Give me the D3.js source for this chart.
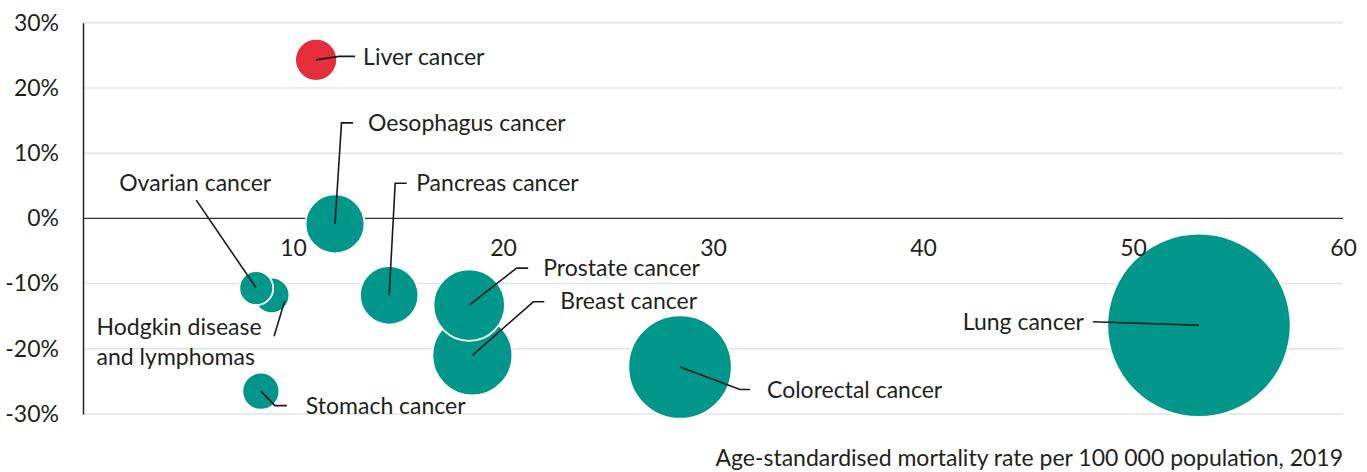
<!DOCTYPE html>
<html>
<head>
<meta charset="utf-8">
<script src="https://cdn.jsdelivr.net/npm/d3@7"></script>
<style>
  html, body { margin: 0; padding: 0; background: #fff; }
  svg { display: block; }
  text { font-family: "Lato", "Open Sans", sans-serif; fill: #231f20; }
</style>
</head>
<body>
<svg id="chart" width="1367" height="472"></svg>
<script>
// Cancer sites: mortality rate (per 100 000, 2019), change in rate (%), bubble size
const cancers   = ["Liver cancer", "Oesophagus cancer", "Hodgkin disease and lymphomas", "Ovarian cancer",
                   "Stomach cancer", "Pancreas cancer", "Breast cancer", "Prostate cancer",
                   "Colorectal cancer", "Lung cancer"];
const mortality = [11.1, 12.0, 8.98, 8.25, 8.47, 14.58, 18.54, 18.39, 28.43, 53.14];
const change    = [24.3, -0.85, -11.8, -10.7, -26.5, -11.8, -21.0, -13.3, -22.8, -16.4];
const deaths    = [13500, 26600, 9700, 8800, 10500, 26100, 48900, 39200, 81700, 257000];
const highlight = ["Liver cancer"];

const xTicks = [10, 20, 30, 40, 50, 60];
const yTicks = [-30, -20, -10, 0, 10, 20, 30];
const xTitle = "Age-standardised mortality rate per 100 000 population, 2019";

const svg = d3.select("#chart");
const plotL = 83, plotR = 1343, plotT = 22.7, plotB = 414;
const fontSize = "23px";

const x = d3.scaleLinear().domain([0, 60]).range([plotL, plotR]);
const y = d3.scaleLinear().domain([-30, 30]).range([plotB, plotT]);
const r = d3.scaleSqrt().domain([0, d3.max(deaths)]).range([0, 91.7]);

const teal = "#00978a", red = "#e52d3b";

// Horizontal gridlines
svg.append("g")
  .selectAll("line")
  .data(yTicks.filter(d => d !== 0))
  .join("line")
  .attr("x1", plotL).attr("x2", plotR)
  .attr("y1", d => y(d)).attr("y2", d => y(d))
  .attr("stroke", "#e3e3e3").attr("stroke-width", 1.5);

// Zero line
svg.append("line")
  .attr("x1", plotL).attr("x2", plotR)
  .attr("y1", y(0)).attr("y2", y(0))
  .attr("stroke", "#333").attr("stroke-width", 1.3);

// Y axis
const yAxis = d3.axisLeft(y).tickValues(yTicks).tickSize(0).tickPadding(24)
  .tickFormat(d => d + "%");
const yg = svg.append("g").attr("transform", `translate(${plotL},0)`).call(yAxis);
yg.select(".domain").attr("stroke", "#222").attr("stroke-width", 1.5);
yg.selectAll("text").style("font-size", fontSize).attr("fill", "#231f20")
  .attr("font-family", null);

// Bubbles
const rows = cancers.map((name, i) => ({
  name, mx: mortality[i], ch: change[i], size: deaths[i]
}));

svg.append("g")
  .selectAll("circle")
  .data(rows)
  .join("circle")
  .attr("cx", d => x(d.mx))
  .attr("cy", d => y(d.ch))
  .attr("r", d => r(d.size))
  .attr("fill", d => highlight.includes(d.name) ? red : teal)
  .attr("stroke", "#fff").attr("stroke-width", 1.8);

// X axis tick labels sit just below the zero line
const xAxis = d3.axisBottom(x).tickValues(xTicks).tickSize(0).tickPadding(21);
const xg = svg.append("g").attr("transform", `translate(0,${y(0)})`).call(xAxis);
xg.select(".domain").remove();
xg.selectAll("text").style("font-size", fontSize).attr("fill", "#231f20")
  .attr("font-family", null);

// Leader lines and labels (pixel offsets from each bubble's centre)
const callouts = {
  "Liver cancer":       { path: [[0, 0], [23, -3.5], [39, -3.5]], text: [47, -4], anchor: "start" },
  "Oesophagus cancer":  { path: [[0, 0], [6.5, -101], [18, -101]], text: [33, -102], anchor: "start" },
  "Pancreas cancer":    { path: [[0, 0], [6, -112], [17.5, -112]], text: [27, -113], anchor: "start" },
  "Ovarian cancer":     { path: [[0, 0], [-60, -88]], text: [-61, -106], anchor: "middle" },
  "Hodgkin disease and lymphomas":
                        { path: [[13, 6], [2.5, 41]], text: [-175, 30.5], anchor: "start",
                          lines: ["Hodgkin disease", "and lymphomas"] },
  "Stomach cancer":     { path: [[0, 0], [14, 14.5], [26, 14.5]], text: [45, 14], anchor: "start" },
  "Prostate cancer":    { path: [[0, 0], [47.5, -37], [59, -37]], text: [74, -38], anchor: "start" },
  "Breast cancer":      { path: [[0, 0], [61, -53.5], [72, -53.5]], text: [88, -55], anchor: "start" },
  "Colorectal cancer":  { path: [[0, 0], [60, 22.5], [70, 22.5]], text: [87, 22], anchor: "start" },
  "Lung cancer":        { path: [[0, 0], [-106, -3.5]], text: [-115, -4.5], anchor: "end" }
};

const line = d3.line();
const ann = svg.append("g");
rows.forEach(d => {
  const c = callouts[d.name];
  const cx = x(d.mx), cy = y(d.ch);
  ann.append("path")
    .attr("d", line(c.path.map(([dx, dy]) => [cx + dx, cy + dy])))
    .attr("fill", "none").attr("stroke", "#1a1a1a").attr("stroke-width", 1.6);
  const t = ann.append("text")
    .attr("x", cx + c.text[0]).attr("y", cy + c.text[1])
    .attr("text-anchor", c.anchor)
    .attr("dominant-baseline", "central")
    .style("font-size", fontSize);
  const lines = c.lines || [d.name];
  lines.forEach((s, i) => {
    t.append("tspan").attr("x", cx + c.text[0]).attr("dy", i === 0 ? 0 : 30).text(s);
  });
});

// X axis title
svg.append("text")
  .attr("x", plotR).attr("y", 457)
  .attr("text-anchor", "end")
  .attr("dominant-baseline", "central")
  .style("font-size", fontSize)
  .text(xTitle);
</script>
</body>
</html>
